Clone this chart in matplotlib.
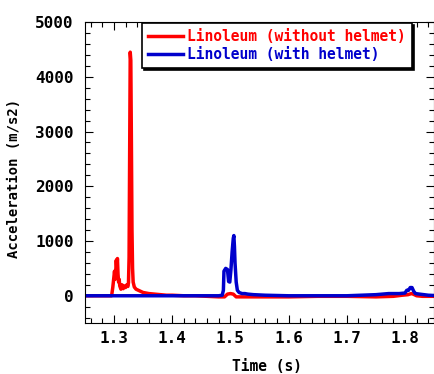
import numpy as np
import matplotlib
matplotlib.use("Agg")
import matplotlib.pyplot as plt
from matplotlib.ticker import MultipleLocator

plt.rcParams['font.family'] = ['DejaVu Sans Mono']
plt.rcParams['font.weight'] = 'bold'

# Linoleum, without helmet (red)
t_red = [1.240, 1.260, 1.280, 1.296, 1.298, 1.300, 1.301, 1.302, 1.303, 1.304,
         1.305, 1.306, 1.307, 1.308, 1.309, 1.310, 1.312, 1.314, 1.316, 1.318,
         1.320, 1.322, 1.324, 1.325, 1.326, 1.327, 1.328, 1.329, 1.330, 1.331,
         1.332, 1.333, 1.335, 1.338, 1.342, 1.346, 1.350, 1.355, 1.360, 1.370,
         1.380, 1.390, 1.400, 1.420, 1.440, 1.460, 1.480, 1.490, 1.495, 1.500,
         1.505, 1.510, 1.520, 1.550, 1.600, 1.650, 1.700, 1.750, 1.780, 1.795,
         1.805, 1.811, 1.814, 1.820, 1.830, 1.860]
acc_red = [0, 0, 0, 0, 150, 350, 450, 300, 420, 650,
           500, 680, 400, 250, 300, 180, 120, 200, 130, 180,
           150, 200, 170, 240, 700, 2600, 4450, 4300, 2800, 1200,
           500, 250, 160, 120, 100, 80, 60, 50, 40, 30,
           20, 10, 10, 0, 0, -10, -20, -20, 30, 40,
           30, -20, -20, -20, -20, -10, -10, -20, -10, 10,
           20, 40, 30, 0, -10, -10]

# Linoleum, with helmet (blue)
t_blue = [1.240, 1.300, 1.350, 1.400, 1.450, 1.480, 1.486, 1.488, 1.489, 1.492,
          1.495, 1.497, 1.499, 1.501, 1.503, 1.505, 1.506, 1.507, 1.508, 1.510,
          1.512, 1.515, 1.520, 1.525, 1.530, 1.540, 1.560, 1.600, 1.650, 1.700,
          1.750, 1.772, 1.790, 1.800, 1.803, 1.806, 1.809, 1.812, 1.815, 1.818,
          1.825, 1.840, 1.860]
acc_blue = [0, 0, 0, 0, 0, 0, 10, 100, 450, 500,
            480, 260, 250, 480, 800, 1050, 1100, 900, 600, 250,
            100, 60, 40, 40, 30, 20, 10, 0, 0, 0,
            20, 40, 40, 50, 100, 100, 150, 150, 80, 40,
            30, 10, 0]

fig = plt.figure(figsize=(4.35, 3.74), dpi=100)
ax = fig.add_axes([0.195, 0.136, 0.803, 0.805])

ax.plot(t_red, acc_red, color='#ff0000', lw=2.5, label='Linoleum (without helmet)')
ax.plot(t_blue, acc_blue, color='#0000cc', lw=2.5, label='Linoleum (with helmet)')

ax.set_xlim(1.25, 1.85)
ax.set_ylim(-500, 5000)
ax.xaxis.set_major_locator(MultipleLocator(0.1))
ax.xaxis.set_minor_locator(MultipleLocator(0.02))
ax.yaxis.set_major_locator(MultipleLocator(1000))
ax.yaxis.set_minor_locator(MultipleLocator(200))
ax.tick_params(which='both', direction='in', top=True, right=True, width=0.8)
ax.tick_params(which='major', length=6, labelsize=11.5)
ax.tick_params(which='minor', length=3.5)
ax.tick_params(axis='y', which='major', pad=8)
ax.tick_params(axis='x', which='major', pad=6)
ax.set_yticks([0, 1000, 2000, 3000, 4000, 5000])
ax.set_yticklabels(['0', '1000', '2000', '3000', '4000', '5000'])
ax.set_xticks([1.3, 1.4, 1.5, 1.6, 1.7, 1.8])
ax.set_xticklabels(['1.3', '1.4', '1.5', '1.6', '1.7', '1.8'])

ax.set_xlabel('Time (s)', fontsize=10.5, fontweight='bold', labelpad=9, x=0.522)
ax.set_ylabel('Acceleration (m/s2)', fontsize=10, fontweight='bold', labelpad=10, y=0.48)

leg = ax.legend(loc='upper left', bbox_to_anchor=(0.163, 0.997), borderaxespad=0,
                fontsize=10.5, labelcolor='linecolor', fancybox=False,
                edgecolor='black', framealpha=1,
                shadow={'color': 'black', 'alpha': 1, 'ox': 1.5, 'oy': -1.5},
                handlelength=2.4, handletextpad=0.3, labelspacing=0.2,
                borderpad=0.42)
leg.get_frame().set_linewidth(1.2)

fig.savefig('out.png', dpi=100)
